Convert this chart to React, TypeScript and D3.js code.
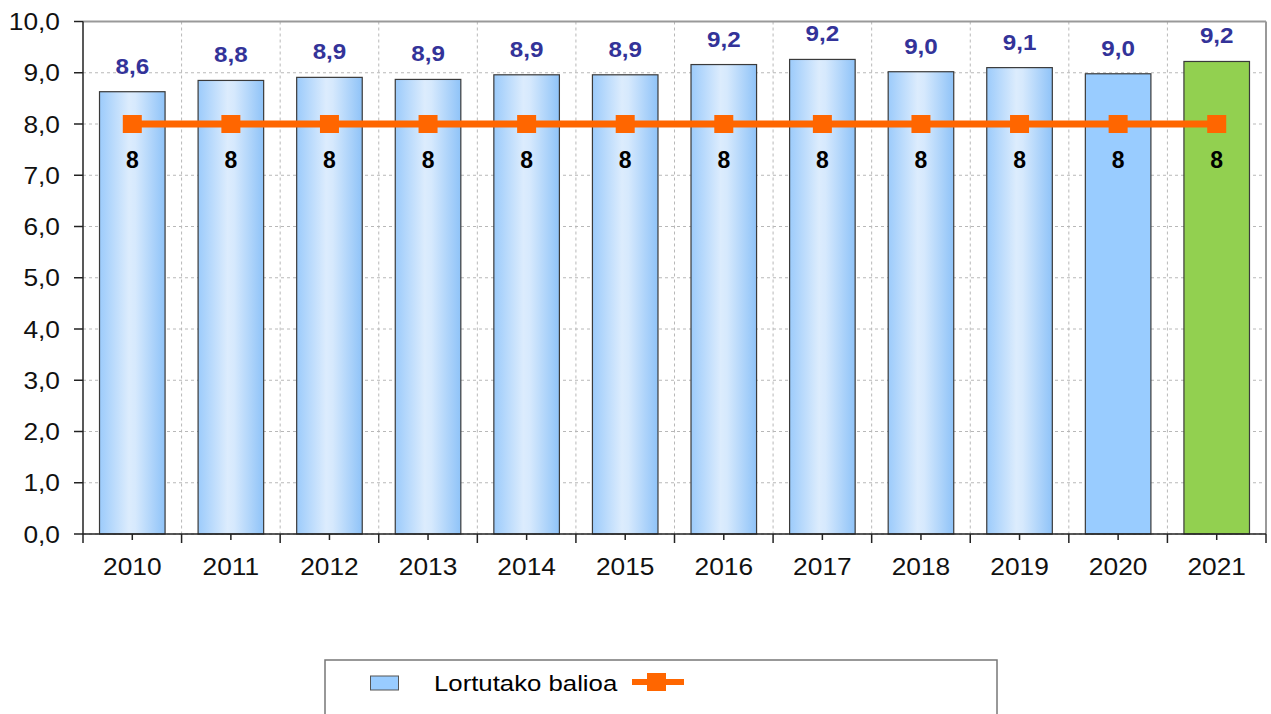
import React from "react";
import * as d3 from "d3";

const years = ["2010","2011","2012","2013","2014","2015","2016","2017","2018","2019","2020","2021"];
const values = [8.63, 8.85, 8.91, 8.87, 8.96, 8.96, 9.16, 9.26, 9.02, 9.1, 8.98, 9.22];
const valueLabels = ["8,6","8,8","8,9","8,9","8,9","8,9","9,2","9,2","9,0","9,1","9,0","9,2"];
const targets = [8, 8, 8, 8, 8, 8, 8, 8, 8, 8, 8, 8];
const yTicks = [0, 1, 2, 3, 4, 5, 6, 7, 8, 9, 10];
const legendLabel = "Lortutako balioa";

const W = 1271, H = 714;
const L = 83, R = 1266, T = 21.5, B = 534;
const FONT = "'Liberation Sans', Arial, sans-serif";
const SX = 1.12;

function Txt(props: { x: number; y: number; anchor?: string; size: number; bold?: boolean; fill?: string; sx?: number; children: React.ReactNode }) {
  const { x, y, anchor = "start", size, bold, fill = "#111", sx = SX, children } = props;
  return (
    <text transform={`translate(${x},${y}) scale(${sx},1)`} textAnchor={anchor} fontFamily={FONT}
      fontSize={size} fontWeight={bold ? "bold" : "normal"} fill={fill}>{children}</text>
  );
}

export default function App() {
  const x = d3.scaleBand().domain(years).range([L, R]).paddingInner(0.335).paddingOuter(0.1675);
  const band = d3.scaleBand().domain(years).range([L, R]).padding(0);
  const y = d3.scaleLinear().domain([0, 10]).range([B, T]);
  const fmt = (v: number) => v.toFixed(1).replace(".", ",");
  const cx = (yr: string) => (band(yr) as number) + band.bandwidth() / 2;
  const line = d3.line<number>().x((_, i) => cx(years[i])).y((d) => y(d));

  return (
    <svg width={W} height={H} style={{ position: "absolute", left: 0, top: 0, background: "#fff" }}>
      <defs>
        <linearGradient id="barGrad" x1="0" x2="1" y1="0" y2="0">
          <stop offset="0" stopColor="#9ccbfb" />
          <stop offset="0.45" stopColor="#dcecfd" />
          <stop offset="0.55" stopColor="#d6e9fd" />
          <stop offset="1" stopColor="#8fc3f8" />
        </linearGradient>
      </defs>
      {yTicks.map((t) => (
        <line key={"h" + t} x1={L} x2={R} y1={y(t)} y2={y(t)} stroke="#b8b8b8" strokeDasharray="3,3" strokeWidth={1} />
      ))}
      {years.map((yr, i) =>
        i === 0 ? null : (
          <line key={"v" + yr} x1={band(yr)} x2={band(yr)} y1={T} y2={B} stroke="#b8b8b8" strokeDasharray="3,3" strokeWidth={1} />
        )
      )}
      <line x1={L} x2={R} y1={T} y2={T} stroke="#999" strokeWidth={2} />
      <line x1={R} x2={R} y1={T} y2={B} stroke="#999" strokeWidth={2} />
      {years.map((yr, i) => {
        const fill = i === 11 ? "#92d050" : i === 10 ? "#99ccff" : "url(#barGrad)";
        return (
          <rect key={"b" + yr} x={x(yr)} y={y(values[i])} width={x.bandwidth()} height={B - y(values[i])}
            fill={fill} stroke="#3a3a3a" strokeWidth={1.2} />
        );
      })}
      <line x1={L} x2={L} y1={T} y2={B} stroke="#222" strokeWidth={1.5} />
      <line x1={L} x2={R} y1={B} y2={B} stroke="#222" strokeWidth={1.5} />
      {yTicks.map((t) => (
        <g key={"yt" + t}>
          <line x1={L - 9} x2={L} y1={y(t)} y2={y(t)} stroke="#222" strokeWidth={1.5} />
          <Txt x={60} y={y(t) + 8.5} anchor="end" size={23.5}>{fmt(t)}</Txt>
        </g>
      ))}
      {years.map((yr) => (
        <g key={"xt" + yr}>
          <line x1={band(yr)} x2={band(yr)} y1={B} y2={B + 9} stroke="#222" strokeWidth={1.5} />
          <line x1={cx(yr)} x2={cx(yr)} y1={B} y2={B + 6} stroke="#222" strokeWidth={1.5} />
          <Txt x={cx(yr)} y={575} anchor="middle" size={23.5}>{yr}</Txt>
        </g>
      ))}
      <line x1={R} x2={R} y1={B} y2={B + 9} stroke="#222" strokeWidth={1.5} />
      {years.map((yr, i) => (
        <Txt key={"vl" + yr} x={cx(yr)} y={y(values[i]) - 18} anchor="middle" size={22} sx={1.1} bold fill="#333399">{valueLabels[i]}</Txt>
      ))}
      <path d={line(targets) as string} fill="none" stroke="#ff6600" strokeWidth={7} />
      {targets.map((t, i) => {
        const c = cx(years[i]);
        return (
          <g key={"m" + i}>
            <rect x={c - 9.5} y={y(t) - 9} width={19} height={18} fill="#ff6600" />
            <Txt x={c} y={168} anchor="middle" size={23} sx={1.0} bold fill="#000">{t}</Txt>
          </g>
        );
      })}
      <rect x={325} y={660} width={672} height={70} fill="#fff" stroke="#777" strokeWidth={1.5} />
      <rect x={370.5} y={676} width={28} height={14} fill="#99ccff" stroke="#555" strokeWidth={1} />
      <Txt x={434} y={691} size={23} fill="#000">{legendLabel}</Txt>
      <line x1={632} x2={684} y1={682} y2={682} stroke="#ff6600" strokeWidth={6} />
      <rect x={647} y={673} width={19} height={18} fill="#ff6600" />
    </svg>
  );
}
